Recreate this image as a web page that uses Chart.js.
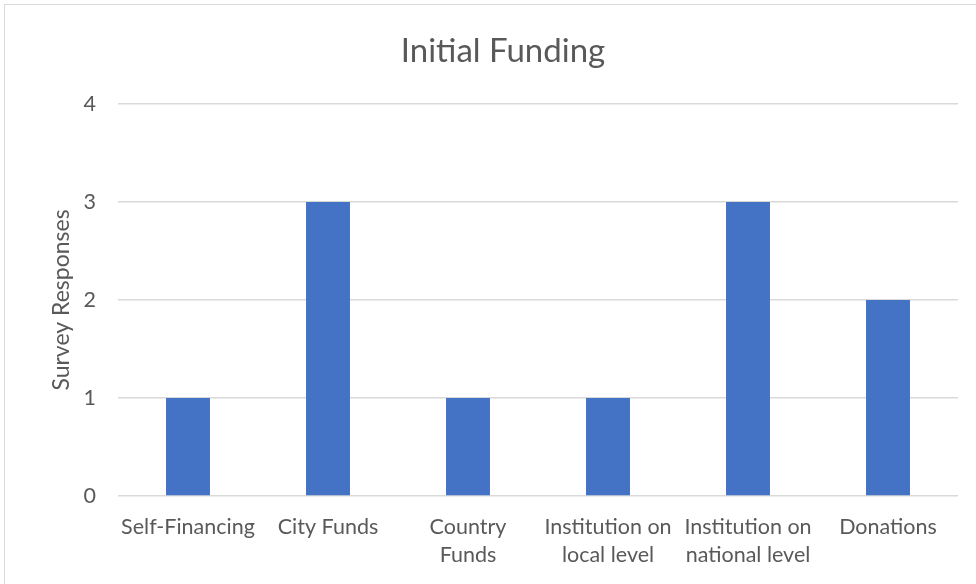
<!DOCTYPE html>
<html>
<head>
<meta charset="utf-8">
<script src="https://cdn.jsdelivr.net/npm/chart.js@4/dist/chart.umd.min.js"></script>
<style>
  html, body { margin: 0; padding: 0; background: #fff; }
  #wrap { position: relative; width: 976px; height: 584px; overflow: hidden; }
  #frame { position: absolute; left: 4px; top: 4px; width: 975px; height: 600px; border: 1px solid #d9d9d9; box-sizing: border-box; pointer-events: none; }
  canvas { position: absolute; left: 0; top: 0; }
</style>
</head>
<body>
<div id="wrap">
  <canvas id="c" width="976" height="584"></canvas>
  <div id="frame"></div>
</div>
<script>
const categories = [
  'Self-Financing',
  'City Funds',
  ['Country', 'Funds'],
  ['Institution on', 'local level'],
  ['Institution on', 'national level'],
  'Donations'
];
const responses = [1, 3, 1, 1, 3, 2];
const yTicks = [0, 1, 2, 3, 4];

const FONT = 'Lato, "Noto Sans", sans-serif';
const TXT = '#595959';

new Chart(document.getElementById('c'), {
  type: 'bar',
  data: {
    labels: categories,
    datasets: [{
      label: 'Survey Responses',
      data: responses,
      backgroundColor: '#4472C4',
      borderWidth: 0,
      categoryPercentage: 1,
      barPercentage: 0.314
    }]
  },
  options: {
    responsive: false,
    animation: false,
    layout: { padding: { left: 48, right: 18, top: 0, bottom: 0 } },
    plugins: {
      legend: { display: false },
      tooltip: { enabled: false },
      title: {
        display: true,
        text: 'Initial Funding',
        color: TXT,
        font: { family: FONT, size: 33, weight: 'normal', lineHeight: 1.2 },
        padding: { top: 32, bottom: 32.4 }
      }
    },
    scales: {
      x: {
        grid: { display: false, drawTicks: false },
        border: { display: false },
        ticks: {
          color: TXT,
          font: { family: FONT, size: 21.5, lineHeight: 1.3 },
          padding: 17,
          maxRotation: 0,
          autoSkip: false
        },
        afterFit: (s) => { s.height = 88; }
      },
      y: {
        min: 0,
        max: 4,
        afterBuildTicks: (s) => { s.ticks = yTicks.map(v => ({ value: v })); },
        grid: { color: '#d9d9d9', lineWidth: 1.5, drawTicks: false },
        border: { display: false },
        ticks: {
          color: TXT,
          font: { family: FONT, size: 21.5 },
          padding: 22
        },
        title: {
          display: true,
          text: 'Survey Responses',
          color: TXT,
          font: { family: FONT, size: 23, weight: 'normal', lineHeight: 1.2 },
          padding: { top: 0, bottom: 0 }
        },
        afterFit: (s) => { s.width = 70; }
      }
    }
  }
});
</script>
</body>
</html>
